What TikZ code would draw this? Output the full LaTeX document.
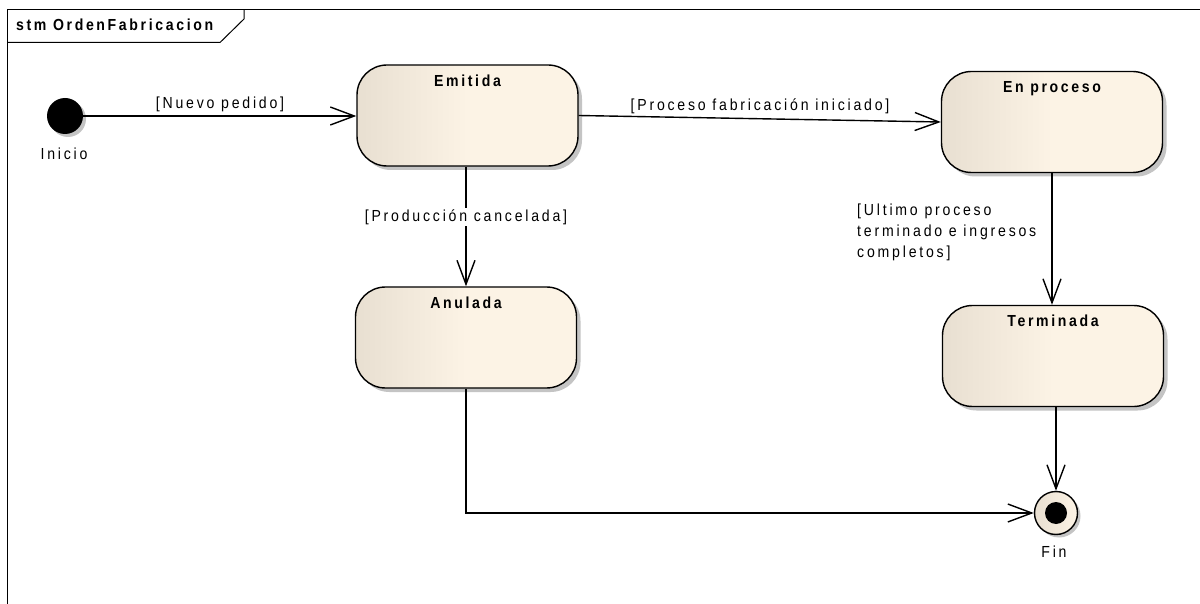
\documentclass[tikz,border=0pt]{standalone}
\usepackage{fontspec}
\setmainfont{Liberation Sans}[FakeStretch=0.88, LetterSpace=17.5,
  BoldFeatures={FakeStretch=0.88, LetterSpace=16.5}]
\usetikzlibrary{arrows.meta,shadows}

\definecolor{stateL}{HTML}{E8DFD1}
\definecolor{stateR}{HTML}{FCF3E5}
\definecolor{shadowgray}{HTML}{C4C4C4}

\tikzset{
  txt/.style={font=\fontsize{16}{21}\selectfont, inner sep=0pt},
  ttl/.style={font=\fontsize{16}{21}\selectfont\bfseries, inner sep=0pt},
  statebox/.style={draw=black, line width=1.4pt, rounded corners=30pt,
    minimum width=221pt, minimum height=101pt, inner sep=0pt,
    left color=stateL, right color=stateR, middle color=stateR,
    drop shadow={shadow xshift=4pt, shadow yshift=-4pt, fill=shadowgray, opacity=1}},
  tr/.style={line width=1.4pt, -{Straight Barb[length=24pt, width=18pt, line width=1.4pt]}},
  glabel/.style={txt, fill=white, inner sep=1pt}
}

\begin{document}
\begin{tikzpicture}[x=1pt, y=-1pt]
  \useasboundingbox[fill=white] (0,0) rectangle (1200,604);

  % diagram frame with its name tab
  \draw[line width=1pt] (7,604) -- (7,10) -- (1200,10);
  \draw[line width=1pt] (7,42.5) -- (220,42.5) -- (244,19) -- (244,10);
  \node[ttl, anchor=west] (frametitle) at (16,25) {stm OrdenFabricacion};

  % initial pseudostate
  \node[circle, fill=black, minimum size=36pt, inner sep=0pt,
        drop shadow={shadow xshift=3pt, shadow yshift=-3pt, fill=shadowgray, opacity=1}]
        (init) at (65,116) {};
  \node[txt] (initlbl) at (64,154) {Inicio};

  % states
  \node[statebox, label={[ttl, name=t1, anchor=north, yshift=-10pt]north:Emitida}]
        (emitida) at (467.5,115.5) {};
  \node[statebox, label={[ttl, name=t2, anchor=north, yshift=-10pt]north:En proceso}]
        (enproceso) at (1052,122) {};
  \node[statebox, label={[ttl, name=t3, anchor=north, yshift=-10pt]north:Anulada}]
        (anulada) at (466,337.5) {};
  \node[statebox, label={[ttl, name=t4, anchor=north, yshift=-10pt]north:Terminada}]
        (terminada) at (1053,356) {};

  % final state
  \node[circle, draw=black, line width=1.4pt, minimum size=43pt, inner sep=0pt,
        left color=stateL, right color=stateR,
        drop shadow={shadow xshift=3pt, shadow yshift=-3pt, fill=shadowgray, opacity=1}]
        (fin) at (1056,513) {};
  \node[circle, fill=black, minimum size=22pt, inner sep=0pt] (fincore) at (fin.center) {};
  \node[txt] (finlbl) at (1054,552) {Fin};

  % transitions
  \draw[tr] (init.east) -- (init.east -| emitida.west);
  \node[txt] (g1) at (220,104) {[Nuevo pedido]};

  \draw[tr] (emitida.east) -- (enproceso.west);
  \node[txt] (g2) at (760,106) {[Proceso fabricación iniciado]};

  \draw[tr] (emitida.south -| anulada.north) -- (anulada.north);
  \node[glabel] (g3) at (466,217) {[Producción cancelada]};

  \draw[tr] (enproceso.south) -- (enproceso.south |- terminada.north);
  \node[txt, align=left, anchor=north west] (g4) at (857,204)
        {[Ultimo proceso\\terminado e ingresos\\completos]};

  \draw[tr] (terminada.south -| fin.north) -- (fin.north);
  \draw[tr] (anulada.south) |- (fin.west);
\end{tikzpicture}
\end{document}
